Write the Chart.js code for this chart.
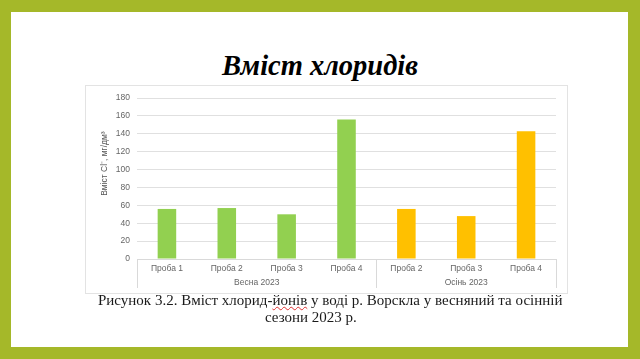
<!DOCTYPE html>
<html>
<head>
<meta charset="utf-8">
<script src="https://cdn.jsdelivr.net/npm/chart.js@4.4.1/dist/chart.umd.min.js"></script>
<style>
  html, body { margin: 0; padding: 0; }
  body { width: 640px; height: 359px; background: #a5b829; position: relative; overflow: hidden; }
  #slide { position: absolute; left: 11px; top: 12px; width: 617px; height: 335px; background: #fff; }
  #title { position: absolute; left: 0; top: 50px; width: 640px; text-align: center;
           font: italic bold 28.5px "Liberation Serif", "Times New Roman", serif; color: #000; }
  #box { position: absolute; left: 85px; top: 85px; width: 481px; height: 207px; border: 1px solid #e3e3e3; }
  #caption1, #caption2 { position: absolute; font: 15px "Liberation Serif", "Times New Roman", serif; color: #1a1a1a; white-space: nowrap; }
  #caption1 { left: 98px; top: 292px; }
  #caption2 { left: 265px; top: 309px; }
  .spell { text-decoration: underline wavy #e03030; text-decoration-thickness: 1px; }
</style>
</head>
<body>
<div id="slide"></div>
<div id="title">Вміст хлоридів</div>
<div id="box"><canvas id="graficoCanvas" width="481" height="207"></canvas></div>
<div id="caption1">Рисунок 3.2. Вміст хлорид-<span class="spell">йонів</span> у воді р. Ворскла у весняний та осінній</div>
<div id="caption2">сезони 2023 р.</div>

<script>
// dados
const labelsVesna = ['Проба 1', 'Проба 2', 'Проба 3', 'Проба 4']
const labelsOsin = ['Проба 2', 'Проба 3', 'Проба 4']
const valoresVesna = [56, 57, 50, 156]
const valoresOsin = [56, 48, 143]
const grupos = ['Весна 2023', 'Осінь 2023']
const yMax = 180
const yStep = 20
const tituloY = 'Вміст Cl⁻, мг/дм³'

const corVesna = '#92d050'
const corOsin = '#ffc000'
const fonte = '"Liberation Sans", Arial, sans-serif'

const labels = labelsVesna.concat(labelsOsin)
const valores = valoresVesna.concat(valoresOsin)
const cores = labelsVesna.map(() => corVesna).concat(labelsOsin.map(() => corOsin))

// grupos do eixo x (linhas + nomes) e titulo do eixo y
const eixoGrupos = {
  id: 'eixoGrupos',
  afterDraw(chart) {
    const ctx = chart.ctx
    const x = chart.scales.x
    const y = chart.scales.y
    const fim = labelsVesna.length
    const meio = (x.getPixelForValue(fim - 1) + x.getPixelForValue(fim)) / 2
    const base = y.bottom
    ctx.save()
    ctx.strokeStyle = '#d9d9d9'
    ctx.lineWidth = 1
    ;[x.left, meio, x.right].forEach(px => {
      ctx.beginPath()
      ctx.moveTo(Math.round(px) + 0.5, base)
      ctx.lineTo(Math.round(px) + 0.5, base + 29)
      ctx.stroke()
    })
    ctx.fillStyle = '#666'
    ctx.font = '8.5px ' + fonte
    ctx.textAlign = 'center'
    ctx.textBaseline = 'middle'
    ctx.fillText(grupos[0], (x.left + meio) / 2, base + 24)
    ctx.fillText(grupos[1], (meio + x.right) / 2, base + 24)

    // titulo y (um pouco acima do centro, como no original)
    ctx.translate(y.left + 19, (y.top + y.bottom) / 2 - 15)
    ctx.rotate(-Math.PI / 2)
    ctx.fillStyle = '#555'
    ctx.font = '8.5px ' + fonte
    ctx.fillText(tituloY, 0, 0)
    ctx.restore()
  }
}

const ctx = document.getElementById('graficoCanvas').getContext('2d')

const grafico = new Chart(ctx, {
  type: 'bar',
  data: {
    labels: labels,
    datasets: [{
      data: valores,
      backgroundColor: cores,
      categoryPercentage: 1,
      barPercentage: 0.31
    }]
  },
  options: {
    responsive: false,
    animation: false,
    layout: { padding: { top: 9, right: 11, left: 0, bottom: 0 } },
    scales: {
      x: {
        grid: { display: false, drawTicks: false },
        border: { display: true, color: '#d9d9d9' },
        ticks: {
          color: '#666',
          padding: 5,
          maxRotation: 0,
          font: { size: 8.5, family: fonte }
        },
        afterFit(scale) { scale.height = 34 }
      },
      y: {
        min: 0,
        max: yMax,
        grid: { color: '#e0e0e0', drawTicks: false },
        border: { display: false },
        ticks: {
          stepSize: yStep,
          color: '#666',
          padding: 7,
          font: { size: 8.5, family: fonte }
        },
        afterFit(scale) { scale.width = 51 }
      }
    },
    plugins: {
      legend: { display: false },
      tooltip: { enabled: false }
    }
  },
  plugins: [eixoGrupos]
})
</script>
</body>
</html>
